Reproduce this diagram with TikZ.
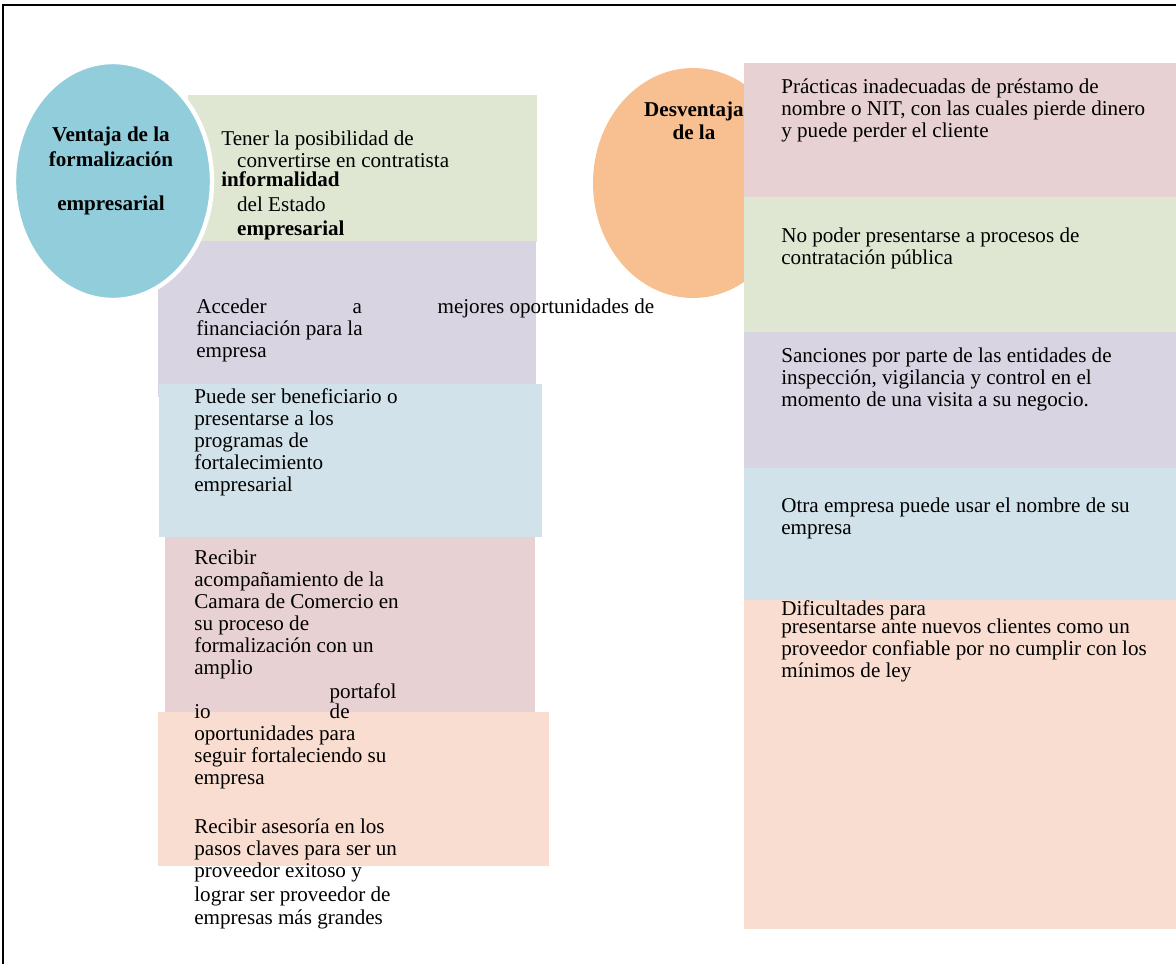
\documentclass[tikz,border=0pt]{standalone}
\usepackage{fontspec}
\setmainfont{Liberation Serif}
\usepackage{tikz}
\usetikzlibrary{shapes.geometric}
\definecolor{azulcirc}{RGB}{146,205,220}
\definecolor{naranjacirc}{RGB}{248,192,144}
\definecolor{verdecaja}{RGB}{223,231,211}
\definecolor{moradocaja}{RGB}{216,212,226}
\definecolor{azulcaja}{RGB}{209,226,234}
\definecolor{rosacaja}{RGB}{232,209,210}
\definecolor{salmoncaja}{RGB}{249,221,208}

\begin{document}
\begin{tikzpicture}[font=\fontsize{12}{12.5}\selectfont,
	caja/.style={rectangle,anchor=north west,inner sep=0pt},
	circulo/.style={ellipse,inner sep=0pt},
	texto/.style={anchor=base west,align=left,inner sep=0pt}]
	\useasboundingbox (0,0) rectangle (23.52,-19.28);
	\draw[line width=1.2pt] (0.06,-19.28)--(0.06,-0.1)--(23.52,-0.1);
	% ventajas
	\node[caja,fill=verdecaja,minimum width=6.98cm,minimum height=2.94cm] (cajav1) at (3.76,-1.9) {};
	\node[caja,fill=moradocaja,minimum width=7.56cm,minimum height=3.12cm] (cajav2) at (3.16,-4.82) {};
	\node[caja,fill=azulcaja,minimum width=7.66cm,minimum height=3.06cm] (cajav3) at (3.18,-7.68) {};
	\node[caja,fill=rosacaja,minimum width=7.40cm,minimum height=3.96cm] (cajav4) at (3.30,-10.74) {};
	\node[caja,fill=salmoncaja,minimum width=7.82cm,minimum height=3.08cm] (cajav5) at (3.16,-14.24) {};
	\node[circulo,fill=azulcirc,draw=white,line width=2.5pt,minimum width=3.96cm,minimum height=4.76cm] (ventaja) at (2.26,-3.62) {};
	% desventajas
	\node[circulo,fill=naranjacirc,minimum width=4.0cm,minimum height=4.6cm] (desventaja) at (13.86,-3.66) {};
	\node[caja,fill=rosacaja,minimum width=8.64cm,minimum height=2.68cm] (cajad1) at (14.88,-1.26) {};
	\node[caja,fill=verdecaja,minimum width=8.64cm,minimum height=2.70cm] (cajad2) at (14.88,-3.94) {};
	\node[caja,fill=moradocaja,minimum width=8.64cm,minimum height=2.72cm] (cajad3) at (14.88,-6.64) {};
	\node[caja,fill=azulcaja,minimum width=8.64cm,minimum height=2.64cm] (cajad4) at (14.88,-9.36) {};
	\node[caja,fill=salmoncaja,minimum width=8.64cm,minimum height=6.58cm] (cajad5) at (14.88,-12.0) {};
	% textos
	\node[anchor=base,align=center,inner sep=0pt,font=\fontsize{12}{12.5}\selectfont\bfseries] (tituloV) at (2.22,-4.20) {Ventaja de la\\[1.5pt]formalización\\[12.5pt]empresarial};
	\node[anchor=base,align=center,inner sep=0pt,font=\fontsize{12}{12.5}\selectfont\bfseries] (tituloD) at (13.88,-2.78) {Desventaja\\[0.5pt]de la};
	\node[texto] (textoV1) at (4.42,-4.70) {Tener la posibilidad de\\\hspace*{9pt}convertirse en contratista\\[-1.5pt]\textbf{informalidad}\\[1.4pt]\hspace*{9pt}del Estado\\[1.0pt]\hspace*{9pt}\textbf{empresarial}};
	\node[texto] (textoV2) at (3.92,-7.14) {Acceder\hspace{49pt}a\hspace{43pt}mejores oportunidades de\\financiación para la\\empresa};
	\node[texto] (textoV3) at (3.88,-9.82) {Puede ser beneficiario o\\presentarse a los\\programas de\\fortalecimiento\\empresarial};
	\node[texto] (textoV4) at (3.88,-15.68) {Recibir\\acompañamiento de la\\Camara de Comercio en\\su proceso de\\formalización con un\\amplio\\[1.2pt]\hspace*{77pt}portafol\\[-1.2pt]io\hspace{67.7pt}de\\oportunidades para\\seguir fortaleciendo su\\empresa};
	\node[texto] (textoV5) at (3.88,-18.48) {Recibir asesoría en los\\pasos claves para ser un\\proveedor exitoso y\\[0.8pt]lograr ser proveedor de\\[0.5pt]empresas más grandes};
	\node[texto] (textoD1) at (15.62,-2.74) {Prácticas inadecuadas de préstamo de\\nombre o NIT, con las cuales pierde dinero\\y puede perder el cliente};
	\node[texto] (textoD2) at (15.62,-5.28) {No poder presentarse a procesos de\\contratación pública};
	\node[texto] (textoD3) at (15.62,-8.12) {Sanciones por parte de las entidades de\\inspección, vigilancia y control en el\\momento de una visita a su negocio.};
	\node[texto] (textoD4) at (15.62,-10.68) {Otra empresa puede usar el nombre de su\\empresa};
	\node[texto] (textoD5) at (15.62,-13.54) {Dificultades para\\[-2pt]presentarse ante nuevos clientes como un\\proveedor confiable por no cumplir con los\\[-0.5pt]mínimos de ley};
\end{tikzpicture}
\end{document}
